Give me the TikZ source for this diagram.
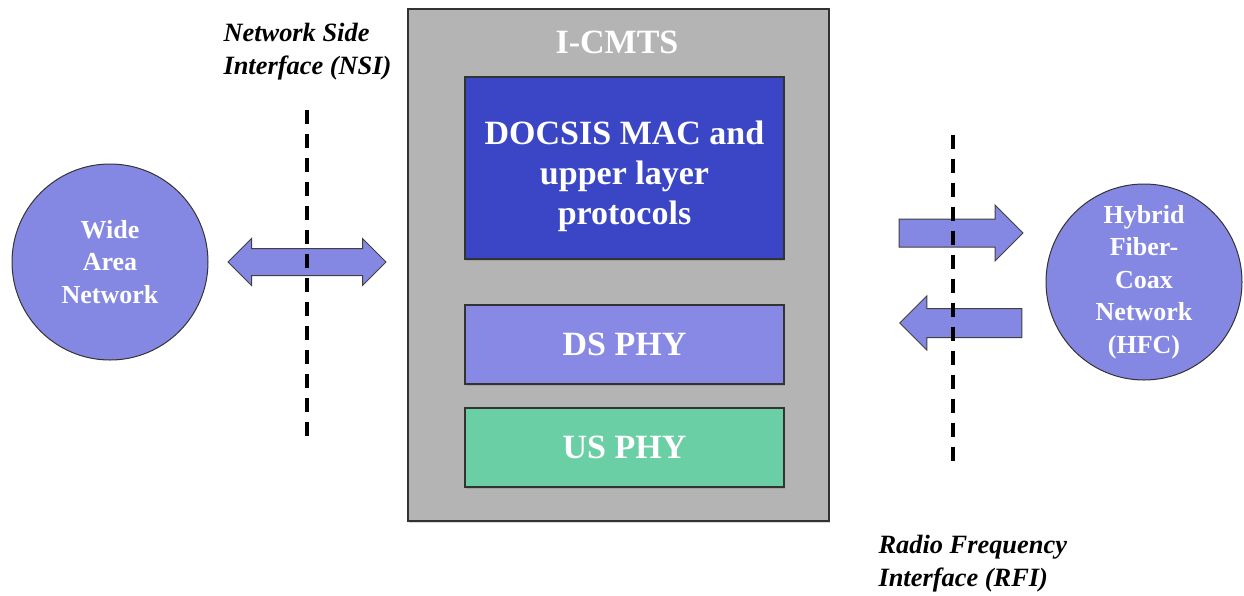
\documentclass[tikz,border=0pt]{standalone}
\usepackage{fontspec}
\setmainfont{Liberation Serif}
\usetikzlibrary{shapes.arrows,shadows}

\definecolor{cmtsgray}{HTML}{B4B4B4}
\definecolor{macblue}{HTML}{3B46C6}
\definecolor{dsblue}{HTML}{8789E4}
\definecolor{usgreen}{HTML}{6BCFA6}
\definecolor{netblue}{HTML}{8488E2}

\begin{document}
\begin{tikzpicture}[x=1pt,y=-1pt,font=\bfseries,every node/.style={align=center}]

    \tikzstyle{layer}=[draw=black!80,line width=1.2pt,text=white,minimum width=319pt,inner sep=0pt,
                       font=\bfseries\fontsize{34}{40}\selectfont,
                       drop shadow={shadow xshift=1pt,shadow yshift=-2pt,opacity=0.35}]
    \tikzstyle{layertext}=[text=white,font=\bfseries\fontsize{34}{40}\selectfont]
    \tikzstyle{net}=[circle,draw=black!80,line width=1pt,fill=netblue,text=white,minimum size=196pt,inner sep=0pt,
                     font=\bfseries\fontsize{26}{32.5}\selectfont]
    \tikzstyle{flow}=[draw=black!75,fill=netblue,line width=1pt,inner xsep=0pt]
    \tikzstyle{iface}=[line width=4pt,dash pattern=on 14pt off 10pt]
    \tikzstyle{ifacetext}=[align=left,anchor=west,font=\bfseries\itshape\fontsize{26.4}{33}\selectfont]

    \useasboundingbox (0,0) rectangle (1244,595);

    % I-CMTS box and its layers
    \node[draw=black!80,line width=1.2pt,fill=cmtsgray,minimum width=421pt,minimum height=512pt,
          drop shadow={shadow xshift=1pt,shadow yshift=-2pt,opacity=0.3}] (cmts) at (618.5,265) {};
    \node[layertext] (cmtsname) at (617,42) {I-CMTS};
    \node[layer,fill=macblue,minimum height=182pt] (mac) at (624.5,168) {};
    \node[layertext] (mactext) at ([yshift=-8pt]mac.center) {DOCSIS MAC and\\upper layer\\protocols};
    \node[layer,fill=dsblue,minimum height=79pt]   (ds)  at (624.5,344.5) {DS PHY};
    \node[layer,fill=usgreen,minimum height=79pt]  (us)  at (624.5,447.5) {US PHY};

    % networks
    \node[net] (wan) at (110,262) {Wide\\Area\\Network};
    \node[net] (hfc) at (1144,282) {Hybrid\\Fiber-\\Coax\\Network\\(HFC)};

    % block arrows
    \node[double arrow,flow,inner ysep=13pt,minimum height=158pt,double arrow head extend=10pt] (nsiflow) at (307,262) {};
    \node[single arrow,flow,inner ysep=13.5pt,minimum height=124pt,single arrow head extend=14pt] (dsflow) at (954,233) {};
    \node[single arrow,flow,shape border rotate=180,inner ysep=14pt,minimum height=122pt,single arrow head extend=12.5pt] (usflow) at (968,323) {};

    % interfaces
    \coordinate (nsitop) at (307,110);
    \coordinate (nsibot) at (307,445);
    \coordinate (rfitop) at (953,135);
    \coordinate (rfibot) at (953,470);
    \draw[iface] (nsitop) -- (nsibot);
    \draw[iface] (rfitop) -- (rfibot);

    \node[ifacetext] (nsi) at (220,52) {Network Side\\Interface (NSI)};
    \node[ifacetext] (rfi) at (875,564) {Radio Frequency\\Interface (RFI)};

\end{tikzpicture}
\end{document}
